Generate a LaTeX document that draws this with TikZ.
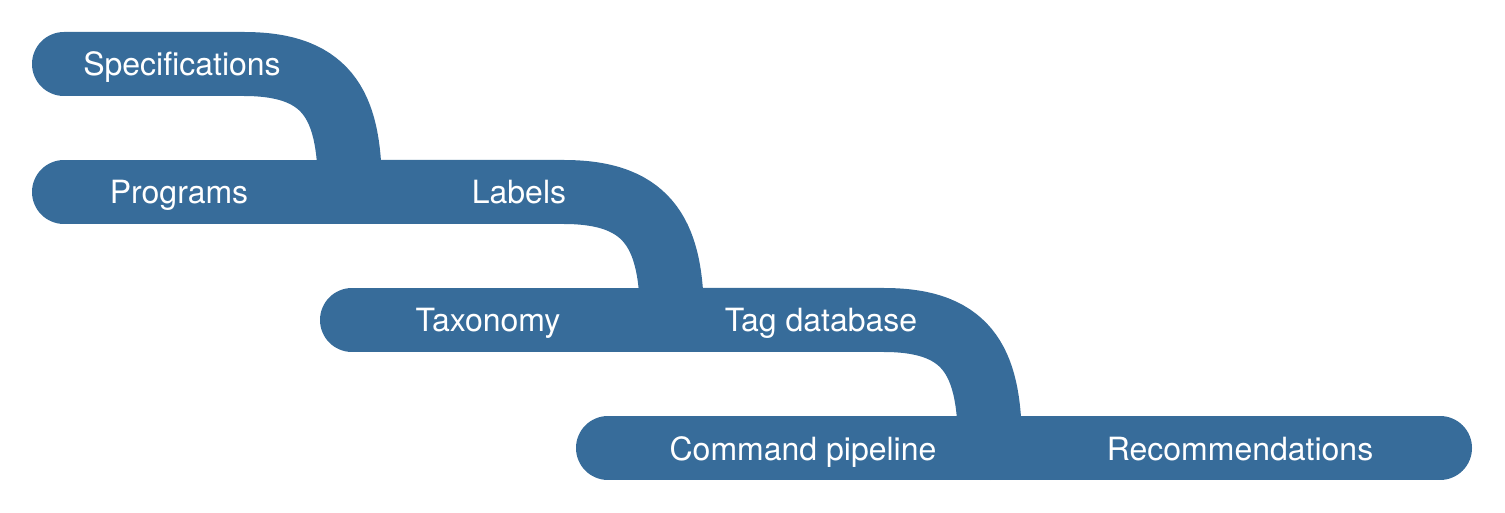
\documentclass[tikz,border=0pt]{standalone}
\usepackage{fontspec}
\setmainfont{TeX Gyre Heros}
\usetikzlibrary{calc,positioning}
\usepackage{xcolor}
\definecolor{flowblue}{RGB}{55,108,154}

\begin{document}
\begin{tikzpicture}[x=0.5pt,y=-0.5pt,
    band/.style={draw=flowblue, line width=32pt, line cap=round},
    lbl/.style={text=white, anchor=base, inner sep=0pt, font=\fontsize{16}{19}\selectfont}]
    \useasboundingbox (0,0) rectangle (1505,513);
    % Points where the flows meet
    \coordinate (j1) at (350,192);
    \coordinate (j2) at (672,320);
    \coordinate (j3) at (990,448);
    % Free ends of the flows
    \coordinate (specend) at (64,64);
    \coordinate (progend) at (64,192);
    \coordinate (taxend) at (352,320);
    \coordinate (cmdend) at (608,448);
    \coordinate (recend) at (1440,448);
    % Draw the bands
    \draw[band] (specend) -- ++(180,0) .. controls +(88,0) and +(0,-82) .. (j1);
    \draw[band] (progend) -- (j1);
    \draw[band] (j1) -- ++(214,0) .. controls +(88,0) and +(0,-82) .. (j2);
    \draw[band] (taxend) -- (j2);
    \draw[band] (j2) -- ++(212,0) .. controls +(88,0) and +(0,-82) .. (j3);
    \draw[band] (cmdend) -- (j3);
    \draw[band] (j3) -- (recend);
    % Draw the labels
    \node[lbl] (spec) at (182,76) {Specifications};
    \node[lbl] (prog) at (179,204) {Programs};
    \node[lbl] (lab) at (519,204) {Labels};
    \node[lbl] (tax) at (488,332) {Taxonomy};
    \node[lbl] (tagdb) at (821,332) {Tag database};
    \node[lbl] (cmd) at (803,460) {Command pipeline};
    \node[lbl] (rec) at (1240,460) {Recommendations};
\end{tikzpicture}
\end{document}
